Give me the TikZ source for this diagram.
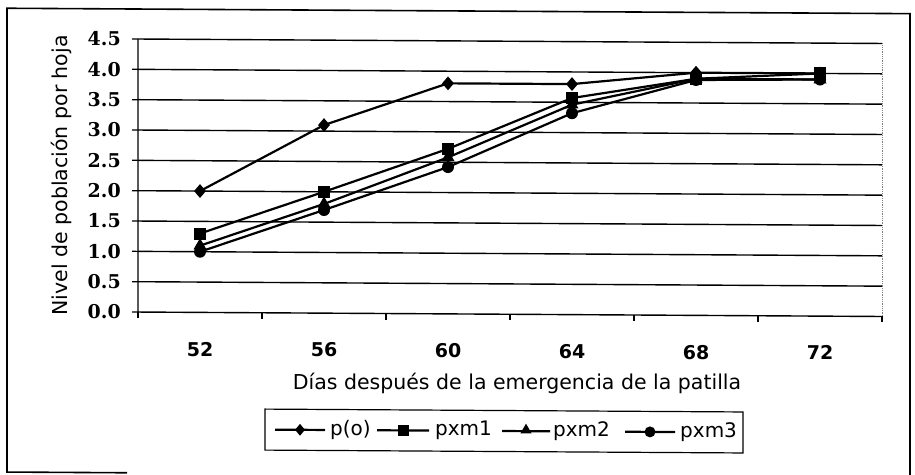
\documentclass[tikz,border=0pt]{standalone}
\usepackage{fontspec}
\setmainfont{DejaVu Sans}
\newfontfamily\numserif{DejaVu Serif}
\usetikzlibrary{shapes.geometric}
\begin{document}
\begin{tikzpicture}[x=1pt,y=-1pt,
  declare function={Y(\t)=311.2-60.67*\t; X(\t)=200+124*\t;},
  gridline/.style={line width=1.4pt},
  series/.style={line width=2.2pt, line join=round},
  mdia/.style={diamond, fill=black, inner sep=0pt, minimum width=12pt, minimum height=14pt},
  msq/.style={rectangle, fill=black, inner sep=0pt, minimum size=12pt},
  mtri/.style={regular polygon, regular polygon sides=3, fill=black, inner sep=0pt, minimum size=15pt},
  mcirc/.style={circle, fill=black, inner sep=0pt, minimum size=12pt},
  ylab/.style={anchor=east, font=\numserif\bfseries\fontsize{19}{22}\selectfont, inner sep=0pt},
  xlab/.style={anchor=base, font=\bfseries\fontsize{19}{22}\selectfont, inner sep=0pt},
  title/.style={font=\fontsize{20.5}{24}\selectfont, inner sep=0pt},
  legtext/.style={anchor=west, font=\fontsize{20}{24}\selectfont, inner sep=0pt},
]
\useasboundingbox (0,0) rectangle (915,474);
\begin{scope}[yslant=-0.006]
% outer frame
\draw[line width=1.6pt] (127,472) -- (7,472) -- (7,8.2) -- (910,8.2) -- (910,472);
% grid
\foreach \g in {0.5,1.0,...,4.5}
  \draw[gridline] (138,{Y(\g)}) -- (882,{Y(\g)});
\draw[gray, densely dotted, line width=0.8pt] (882,{Y(4.5)}) -- (882,{Y(0)});
% axes
\draw[line width=1.4pt] (138,{Y(4.5)}) -- (138,{Y(0)}) -- (882,{Y(0)});
% y ticks and labels
\foreach \g [count=\i] in {0.0,0.5,1.0,1.5,2.0,2.5,3.0,3.5,4.0,4.5} {
  \draw[line width=1.2pt] (132,{Y(\g)}) -- (138,{Y(\g)});
  \node[ylab] (yl\i) at (121,{Y(\g)}) {\g};
}
% x ticks and labels
\foreach \k in {0,...,6}
  \draw[line width=1.2pt] ({138+124*\k},{Y(0)}) -- ({138+124*\k},{Y(0)+6});
\foreach \d [count=\k from 0] in {52,56,60,64,68,72}
  \node[xlab] (xl\d) at ({X(\k)},355) {\d};
% axis titles
\node[title, anchor=base] (xtitle) at (517,386.3) {Días después de la emergencia de la patilla};
\node[title, rotate=90, anchor=base] (ytitle) at (67,175) {Nivel de población por hoja};
% series
\foreach \v [count=\k from 0] in {2.0,3.1,3.8,3.8,4.0,4.0}
  \coordinate (p\k) at ({X(\k)},{Y(\v)});
\foreach \v [count=\k from 0] in {1.3,2.0,2.72,3.57,3.9,4.0}
  \coordinate (a\k) at ({X(\k)},{Y(\v)});
\foreach \v [count=\k from 0] in {1.1,1.8,2.58,3.46,3.9,3.9}
  \coordinate (b\k) at ({X(\k)},{Y(\v)});
\foreach \v [count=\k from 0] in {1.0,1.7,2.42,3.32,3.88,3.9}
  \coordinate (c\k) at ({X(\k)},{Y(\v)});
\draw[series] (p0) -- (p1) -- (p2) -- (p3) -- (p4) -- (p5);
\foreach \k in {0,...,5} \node[mdia] (mp\k) at (p\k) {};
\draw[series] (a0) -- (a1) -- (a2) -- (a3) -- (a4) -- (a5);
\foreach \k in {0,...,5} \node[msq] (ma\k) at (a\k) {};
\draw[series] (b0) -- (b1) -- (b2) -- (b3) -- (b4) -- (b5);
\foreach \k in {0,...,5} \node[mtri] (mb\k) at (b\k) {};
\draw[series] (c0) -- (c1) -- (c2) -- (c3) -- (c4) -- (c5);
\foreach \k in {0,...,5} \node[mcirc] (mc\k) at (c\k) {};
% legend
\draw[line width=1.2pt] (265,407.5) rectangle (743,448.5);
\coordinate (lp1) at (275,428); \coordinate (lp2) at (325,428);
\coordinate (la1) at (377,428); \coordinate (la2) at (429,428);
\coordinate (lb1) at (502,428); \coordinate (lb2) at (550,428);
\coordinate (lc1) at (625,428); \coordinate (lc2) at (675,428);
\draw[series] (lp1) -- (lp2);
\draw[series] (la1) -- (la2);
\draw[series] (lb1) -- (lb2);
\draw[series] (lc1) -- (lc2);
\node[mdia, minimum width=10pt, minimum height=12pt] (lmp) at (300,428) {};
\node[msq, minimum size=11pt] (lma) at (403,428) {};
\node[mtri, minimum size=13pt] (lmb) at (526,427) {};
\node[mcirc, minimum size=11pt] (lmc) at (650,428) {};
\node[legtext] (ltp) at (330,428) {p(o)};
\node[legtext] (lta) at (435,428) {pxm1};
\node[legtext] (ltb) at (553,428) {pxm2};
\node[legtext] (ltc) at (680,428) {pxm3};
\end{scope}
\end{tikzpicture}
\end{document}
